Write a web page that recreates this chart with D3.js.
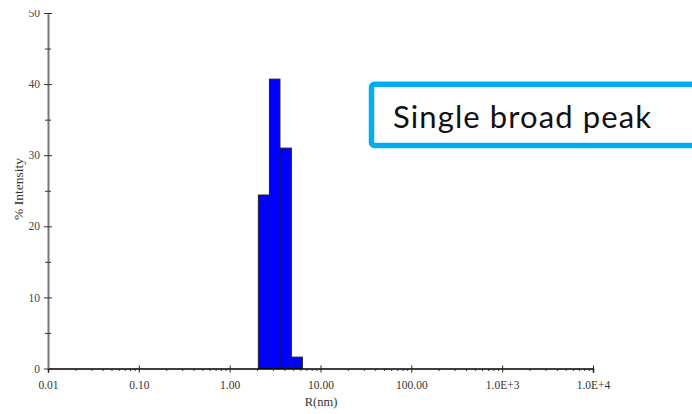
<!DOCTYPE html>
<html>
<head>
<meta charset="utf-8">
<script src="https://cdn.jsdelivr.net/npm/d3@7"></script>
<style>
  html, body { margin: 0; padding: 0; background: #fff; }
  svg { display: block; }
</style>
</head>
<body>
<svg id="chart" width="692" height="414"></svg>
<script>
// ---- data ----
const binStart = [2.07, 2.74, 3.58, 4.78];
const binEnd = [2.74, 3.58, 4.78, 6.32];
const intensity = [24.4, 40.7, 31.0, 1.6];
const xTickValues = [0.01, 0.1, 1, 10, 100, 1000, 10000];
const xTickLabels = ["0.01", "0.10", "1.00", "10.00", "100.00", "1.0E+3", "1.0E+4"];
const yTickValues = [0, 10, 20, 30, 40, 50];
const yMinorValues = [5, 15, 25, 35, 45];
const xLabel = "R(nm)";
const yLabel = "% Intensity";
const note = "Single broad peak";

const svg = d3.select("#chart");
svg.append("rect").attr("width", 692).attr("height", 414).attr("fill", "#fff");

// clip at the top like the source screenshot (top of "50" cut off)
svg.append("defs").append("clipPath").attr("id", "topclip")
  .append("rect").attr("x", 0).attr("y", 10).attr("width", 692).attr("height", 404);

const x = d3.scaleLog().domain([0.01, 10000]).range([48, 593]);
const y = d3.scaleLinear().domain([0, 50]).range([368.5, 13]);

const serif = "'Liberation Serif', 'DejaVu Serif', serif";

// minor x ticks
const xMinor = [];
for (let e = -2; e < 4; e++) {
  for (let m = 2; m <= 9; m++) xMinor.push(m * Math.pow(10, e));
}

// bars
svg.append("g").selectAll("rect")
  .data(intensity)
  .join("rect")
  .attr("x", (d, i) => x(binStart[i]))
  .attr("width", (d, i) => x(binEnd[i]) - x(binStart[i]))
  .attr("y", d => y(d))
  .attr("height", d => y(0) - y(d))
  .attr("fill", "#0000ff")
  .attr("stroke", "#222")
  .attr("stroke-width", 1);

// x axis
const xAxisG = svg.append("g").attr("transform", `translate(0,${y(0)})`);
xAxisG.call(d3.axisBottom(x).tickValues(xTickValues).tickFormat((d, i) => xTickLabels[i]).tickSize(4).tickPadding(8));
xAxisG.select(".domain").attr("stroke", "#000").attr("stroke-width", 1.5);
xAxisG.selectAll(".tick line").attr("y1", -3).attr("y2", 4).attr("stroke", "#222");
xAxisG.selectAll(".tick text").attr("font-family", serif).attr("font-size", 11.5).attr("fill", "#333");

const xMinorG = svg.append("g").attr("transform", `translate(0,${y(0)})`);
xMinorG.call(d3.axisBottom(x).tickValues(xMinor).tickFormat("").tickSize(2));
xMinorG.select(".domain").remove();
xMinorG.selectAll(".tick line").attr("stroke", "#333").attr("y1", 0).attr("y2", 2.5);

// y axis
const yWrap = svg.append("g").attr("clip-path", "url(#topclip)");
const yAxisG = yWrap.append("g").attr("transform", `translate(${x(0.01)},0)`);
yAxisG.call(d3.axisLeft(y).tickValues(yTickValues).tickFormat(d3.format("d")).tickSize(4).tickPadding(4).tickSizeOuter(0));
yAxisG.select(".domain").attr("stroke", "#777").attr("stroke-width", 2);
yAxisG.selectAll(".tick line").attr("x1", -4).attr("x2", 4).attr("stroke", "#333");
yAxisG.selectAll(".tick text").attr("font-family", serif).attr("font-size", 11.5).attr("fill", "#444");

const yMinorG = svg.append("g").attr("transform", `translate(${x(0.01)},0)`);
yMinorG.call(d3.axisLeft(y).tickValues(yMinorValues).tickFormat("").tickSize(3));
yMinorG.select(".domain").remove();
yMinorG.selectAll(".tick line").attr("x1", -3).attr("x2", 3).attr("stroke", "#333");

// axis titles
svg.append("text")
  .attr("x", 321).attr("y", 406)
  .attr("text-anchor", "middle")
  .attr("font-family", serif).attr("font-size", 12.5).attr("fill", "#333")
  .text(xLabel);

svg.append("text")
  .attr("transform", "translate(23,189) rotate(-90)")
  .attr("text-anchor", "middle")
  .attr("font-family", serif).attr("font-size", 13.5).attr("fill", "#333")
  .text(yLabel);

// annotation box
svg.append("rect")
  .attr("x", 371.5).attr("y", 84.2)
  .attr("width", 340).attr("height", 61.2)
  .attr("rx", 3)
  .attr("fill", "#fff")
  .attr("stroke", "#00aeef")
  .attr("stroke-width", 5.5);

svg.append("text")
  .attr("x", 393).attr("y", 128)
  .attr("font-family", "Lato, 'Open Sans', sans-serif")
  .attr("font-size", 31)
  .attr("letter-spacing", 1.1)
  .attr("fill", "#111")
  .text(note);
</script>
</body>
</html>
